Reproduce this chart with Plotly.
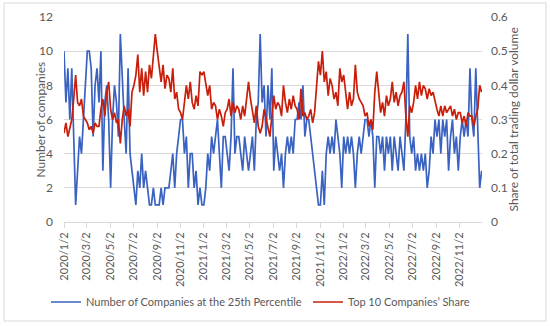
import pandas as pd
import plotly.graph_objects as go

# Number of companies at the 25th percentile (six readings per month, Jan 2020 - Dec 2022)
companies = [
    10, 7, 9, 6, 9, 5,
    1, 3, 5, 4, 6, 8,
    10, 10, 9, 5, 8, 9,
    7, 10, 3, 7, 8, 6,
    2, 6, 8, 7, 5, 11,
    8, 6, 4, 9, 4, 3,
    2, 1, 3, 2, 4, 2,
    3, 2, 1, 1, 2, 1,
    1, 1, 2, 1, 2, 2,
    2, 3, 4, 2, 4, 5,
    6, 6, 4, 5, 2, 4,
    4, 2, 3, 1, 2, 1,
    1, 2, 4, 3, 5, 4,
    5, 6, 4, 2, 5, 5,
    4, 3, 5, 9, 4, 5,
    5, 4, 3, 5, 4, 3,
    4, 5, 3, 6, 7, 11,
    7, 8, 5, 8, 6, 9,
    3, 5, 4, 3, 4, 2,
    4, 5, 4, 5, 4, 6,
    6, 7, 6, 8, 5, 6,
    6, 5, 4, 3, 2, 1,
    1, 3, 1, 4, 5, 4,
    5, 4, 6, 5, 4, 2,
    5, 4, 5, 4, 5, 4,
    2, 4, 5, 4, 5, 6,
    6, 5, 6, 5, 2, 5,
    5, 4, 5, 3, 5, 4,
    5, 3, 5, 4, 3, 5,
    4, 3, 6, 11, 5, 4,
    5, 3, 4, 3, 4, 3,
    4, 2, 3, 5, 4, 6,
    5, 6, 4, 6, 5, 6,
    3, 5, 6, 4, 5, 3,
    5, 6, 5, 6, 5, 9,
    6, 5, 9, 5, 2, 3,
]

# Top 10 companies' share of total trading dollar volume
top10_share = [
    0.26, 0.29, 0.25, 0.28, 0.30, 0.36,
    0.43, 0.35, 0.34, 0.36, 0.31, 0.30,
    0.29, 0.27, 0.28, 0.26, 0.29, 0.28,
    0.28, 0.33, 0.36, 0.31, 0.38, 0.41,
    0.33, 0.30, 0.32, 0.29, 0.30, 0.23,
    0.30, 0.34, 0.31, 0.33, 0.28, 0.38,
    0.40, 0.43, 0.49, 0.38, 0.45, 0.37,
    0.44, 0.38, 0.46, 0.42, 0.50, 0.55,
    0.50, 0.46, 0.41, 0.46, 0.39, 0.43,
    0.42, 0.38, 0.45, 0.36, 0.38, 0.33,
    0.32, 0.30, 0.35, 0.40, 0.36, 0.41,
    0.35, 0.33, 0.37, 0.34, 0.44, 0.43,
    0.44, 0.41, 0.37, 0.40, 0.33, 0.35,
    0.34, 0.30, 0.33, 0.31, 0.28, 0.32,
    0.33, 0.36, 0.31, 0.35, 0.32, 0.34,
    0.33, 0.30, 0.34, 0.31, 0.36, 0.41,
    0.36, 0.32, 0.29, 0.34, 0.28, 0.26,
    0.28, 0.33, 0.30, 0.27, 0.25, 0.31,
    0.37, 0.33, 0.35, 0.34, 0.31, 0.40,
    0.35, 0.32, 0.36, 0.33, 0.37, 0.34,
    0.33, 0.30, 0.39, 0.31, 0.32, 0.30,
    0.31, 0.33, 0.29, 0.32, 0.40, 0.47,
    0.43, 0.50, 0.41, 0.44, 0.37, 0.42,
    0.40, 0.36, 0.38, 0.34, 0.45, 0.41,
    0.43, 0.37, 0.33, 0.38, 0.34, 0.36,
    0.46, 0.38, 0.36, 0.35, 0.34, 0.31,
    0.32, 0.28, 0.30, 0.27, 0.38, 0.44,
    0.37, 0.32, 0.35, 0.31, 0.37, 0.34,
    0.36, 0.41, 0.35, 0.38, 0.34, 0.37,
    0.38, 0.41, 0.31, 0.25, 0.34, 0.32,
    0.35, 0.40, 0.36, 0.41, 0.37, 0.40,
    0.39, 0.36, 0.39, 0.37, 0.38, 0.35,
    0.33, 0.31, 0.34, 0.31, 0.34, 0.32,
    0.33, 0.34, 0.31, 0.33, 0.30, 0.32,
    0.32, 0.29, 0.31, 0.28, 0.32, 0.31,
    0.31, 0.28, 0.31, 0.33, 0.40, 0.38,
]

tick_dates = ["2020-01-02", "2020-03-02", "2020-05-02", "2020-07-02", "2020-09-02",
              "2020-11-02", "2021-01-02", "2021-03-02", "2021-05-02", "2021-07-02",
              "2021-09-02", "2021-11-02", "2022-01-02", "2022-03-02", "2022-05-02",
              "2022-07-02", "2022-09-02", "2022-11-02"]
tick_labels = ["2020/1/2", "2020/3/2", "2020/5/2", "2020/7/2", "2020/9/2",
               "2020/11/2", "2021/1/2", "2021/3/2", "2021/5/2", "2021/7/2",
               "2021/9/2", "2021/11/2", "2022/1/2", "2022/3/2", "2022/5/2",
               "2022/7/2", "2022/9/2", "2022/11/2"]

dates = pd.date_range("2020-01-02", "2022-12-30", periods=len(companies))

FONT = "Lato"
GRAY = "#595959"
GRID = "#D9D9D9"

fig = go.Figure()
fig.add_trace(go.Scatter(
    x=dates, y=companies, mode="lines", legend="legend",
    name="Number of Companies at the 25th Percentile",
    line=dict(color="#3A62C0", width=1.7),
))
fig.add_trace(go.Scatter(
    x=dates, y=top10_share, mode="lines", yaxis="y2", legend="legend2",
    name="Top 10 Companies\u2019 Share",
    line=dict(color="#C81E0A", width=1.7),
))

L, R, T, B = 64, 68, 17, 104
PW = 550 - L - R
PH = 326 - T - B
LEG_Y = 1 - 302 / 326
leg_common = dict(orientation="h", xref="container", yref="container", xanchor="left",
                  y=LEG_Y, yanchor="middle", bgcolor="rgba(0,0,0,0)", itemwidth=30,
                  font=dict(family=FONT, size=11, color=GRAY))

fig.update_layout(
    width=550, height=326,
    margin=dict(l=L, r=R, t=T, b=B, autoexpand=False),
    paper_bgcolor="white", plot_bgcolor="white",
    font=dict(family=FONT, size=12, color=GRAY),
    showlegend=True,
    legend=dict(x=46 / 550, **leg_common),
    legend2=dict(x=308 / 550, **leg_common),
    xaxis=dict(
        type="date", range=["2020-01-02", "2022-12-31"], automargin=False,
        tickmode="array", tickvals=tick_dates, ticktext=tick_labels,
        tickangle=-90, tickfont=dict(family=FONT, size=11, color=GRAY),
        showgrid=False, showline=True, linecolor=GRID, linewidth=1,
        ticks="outside", ticklen=5, tickcolor=GRID, zeroline=False,
    ),
    yaxis=dict(
        range=[0, 12], dtick=2, tick0=0, automargin=False,
        showgrid=True, gridcolor=GRID, gridwidth=1, zeroline=False,
        showline=False, ticks="", ticklabelstandoff=10,
        tickfont=dict(family=FONT, size=12, color=GRAY),
    ),
    yaxis2=dict(
        range=[0, 0.6], dtick=0.1, tick0=0, overlaying="y", side="right",
        automargin=False, showgrid=False, zeroline=False, showline=False, ticks="",
        ticklabelstandoff=8,
        tickfont=dict(family=FONT, size=12, color=GRAY),
    ),
)

fig.add_annotation(text="Number of companies", xref="paper", yref="paper",
                   x=(30 - L) / PW, y=(222 - 120) / PH, textangle=-90,
                   showarrow=False, font=dict(family=FONT, size=12, color=GRAY))
fig.add_annotation(text="Share of total trading dollar volume", xref="paper", yref="paper",
                   x=(522 - L) / PW, y=(222 - 120) / PH, textangle=-90,
                   showarrow=False, font=dict(family=FONT, size=12, color=GRAY))

fig.add_shape(type="rect", xref="paper", yref="paper",
              x0=(4 - L) / PW, x1=(546 - L) / PW,
              y0=(222 - 321) / PH, y1=(222 - 3) / PH,
              line=dict(color=GRID, width=1), fillcolor="rgba(0,0,0,0)", layer="below")

fig.write_html("out.html", config={"displayModeBar": False},
               post_script="document.body.style.margin='0';document.body.style.padding='0';")
